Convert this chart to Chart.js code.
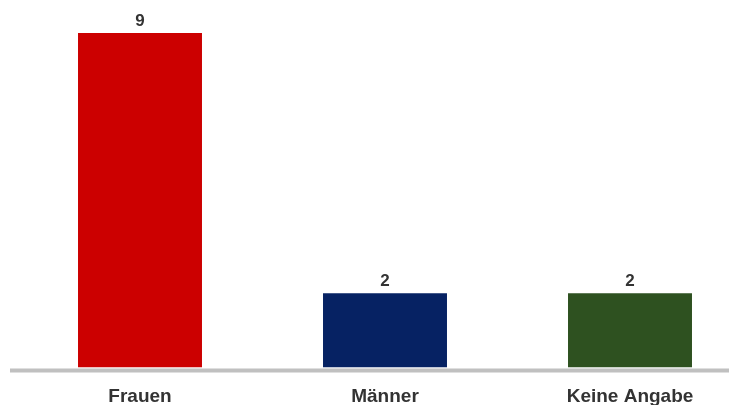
<!DOCTYPE html>
<html>
<head>
<meta charset="utf-8">
<script src="https://cdn.jsdelivr.net/npm/chart.js@4"></script>
<style>
  html, body { margin: 0; padding: 0; background: #fff; overflow: hidden; }
  #wrap { position: relative; width: 760px; height: 405px; }
</style>
</head>
<body>
<div id="wrap"><canvas id="myChart"></canvas></div>
<script>
const categories = ['Frauen', 'Männer', 'Keine Angabe'];
const counts = [9, 2, 2];
const barColors = ['#cc0000', '#062263', '#2e5120'];
const textColor = '#333333';
const axisColor = '#c0c0c0';
const fontFamily = '"Liberation Sans", Arial, sans-serif';

// value labels above bars + grey baseline
const extras = {
    id: 'extras',
    afterDatasetsDraw(chart) {
        const ctx = chart.ctx;
        const y0 = chart.scales.y.getPixelForValue(0);
        ctx.save();
        ctx.fillStyle = axisColor;
        ctx.fillRect(10, y0 + 1, chart.width, 4);
        ctx.font = 'bold 17px ' + fontFamily;
        ctx.fillStyle = textColor;
        ctx.textAlign = 'center';
        ctx.textBaseline = 'alphabetic';
        chart.getDatasetMeta(0).data.forEach(function(bar, i) {
            ctx.fillText(counts[i], bar.x, bar.y - 7);
        });
        ctx.restore();
    }
};

new Chart('myChart', {
    type: 'bar',
    data: {
        labels: categories,
        datasets: [{
            data: counts,
            backgroundColor: barColors,
            borderWidth: 0,
            barPercentage: 1,
            categoryPercentage: 0.506,
        }]
    },
    options: {
        responsive: true,
        maintainAspectRatio: false,
        animation: false,
        layout: { padding: { top: 33, left: 17.5, right: 7.5, bottom: 0 } },
        plugins: {
            legend: { display: false },
            tooltip: { enabled: false }
        },
        scales: {
            x: {
                grid: { display: false, drawTicks: false },
                border: { display: false },
                ticks: {
                    color: textColor,
                    padding: 18,
                    font: { family: fontFamily, size: 19, weight: 'bold' }
                },
                afterFit(scale) { scale.height = 37.5; }
            },
            y: {
                display: false,
                min: 0,
                max: 9
            }
        }
    },
    plugins: [extras]
});
</script>
</body>
</html>
